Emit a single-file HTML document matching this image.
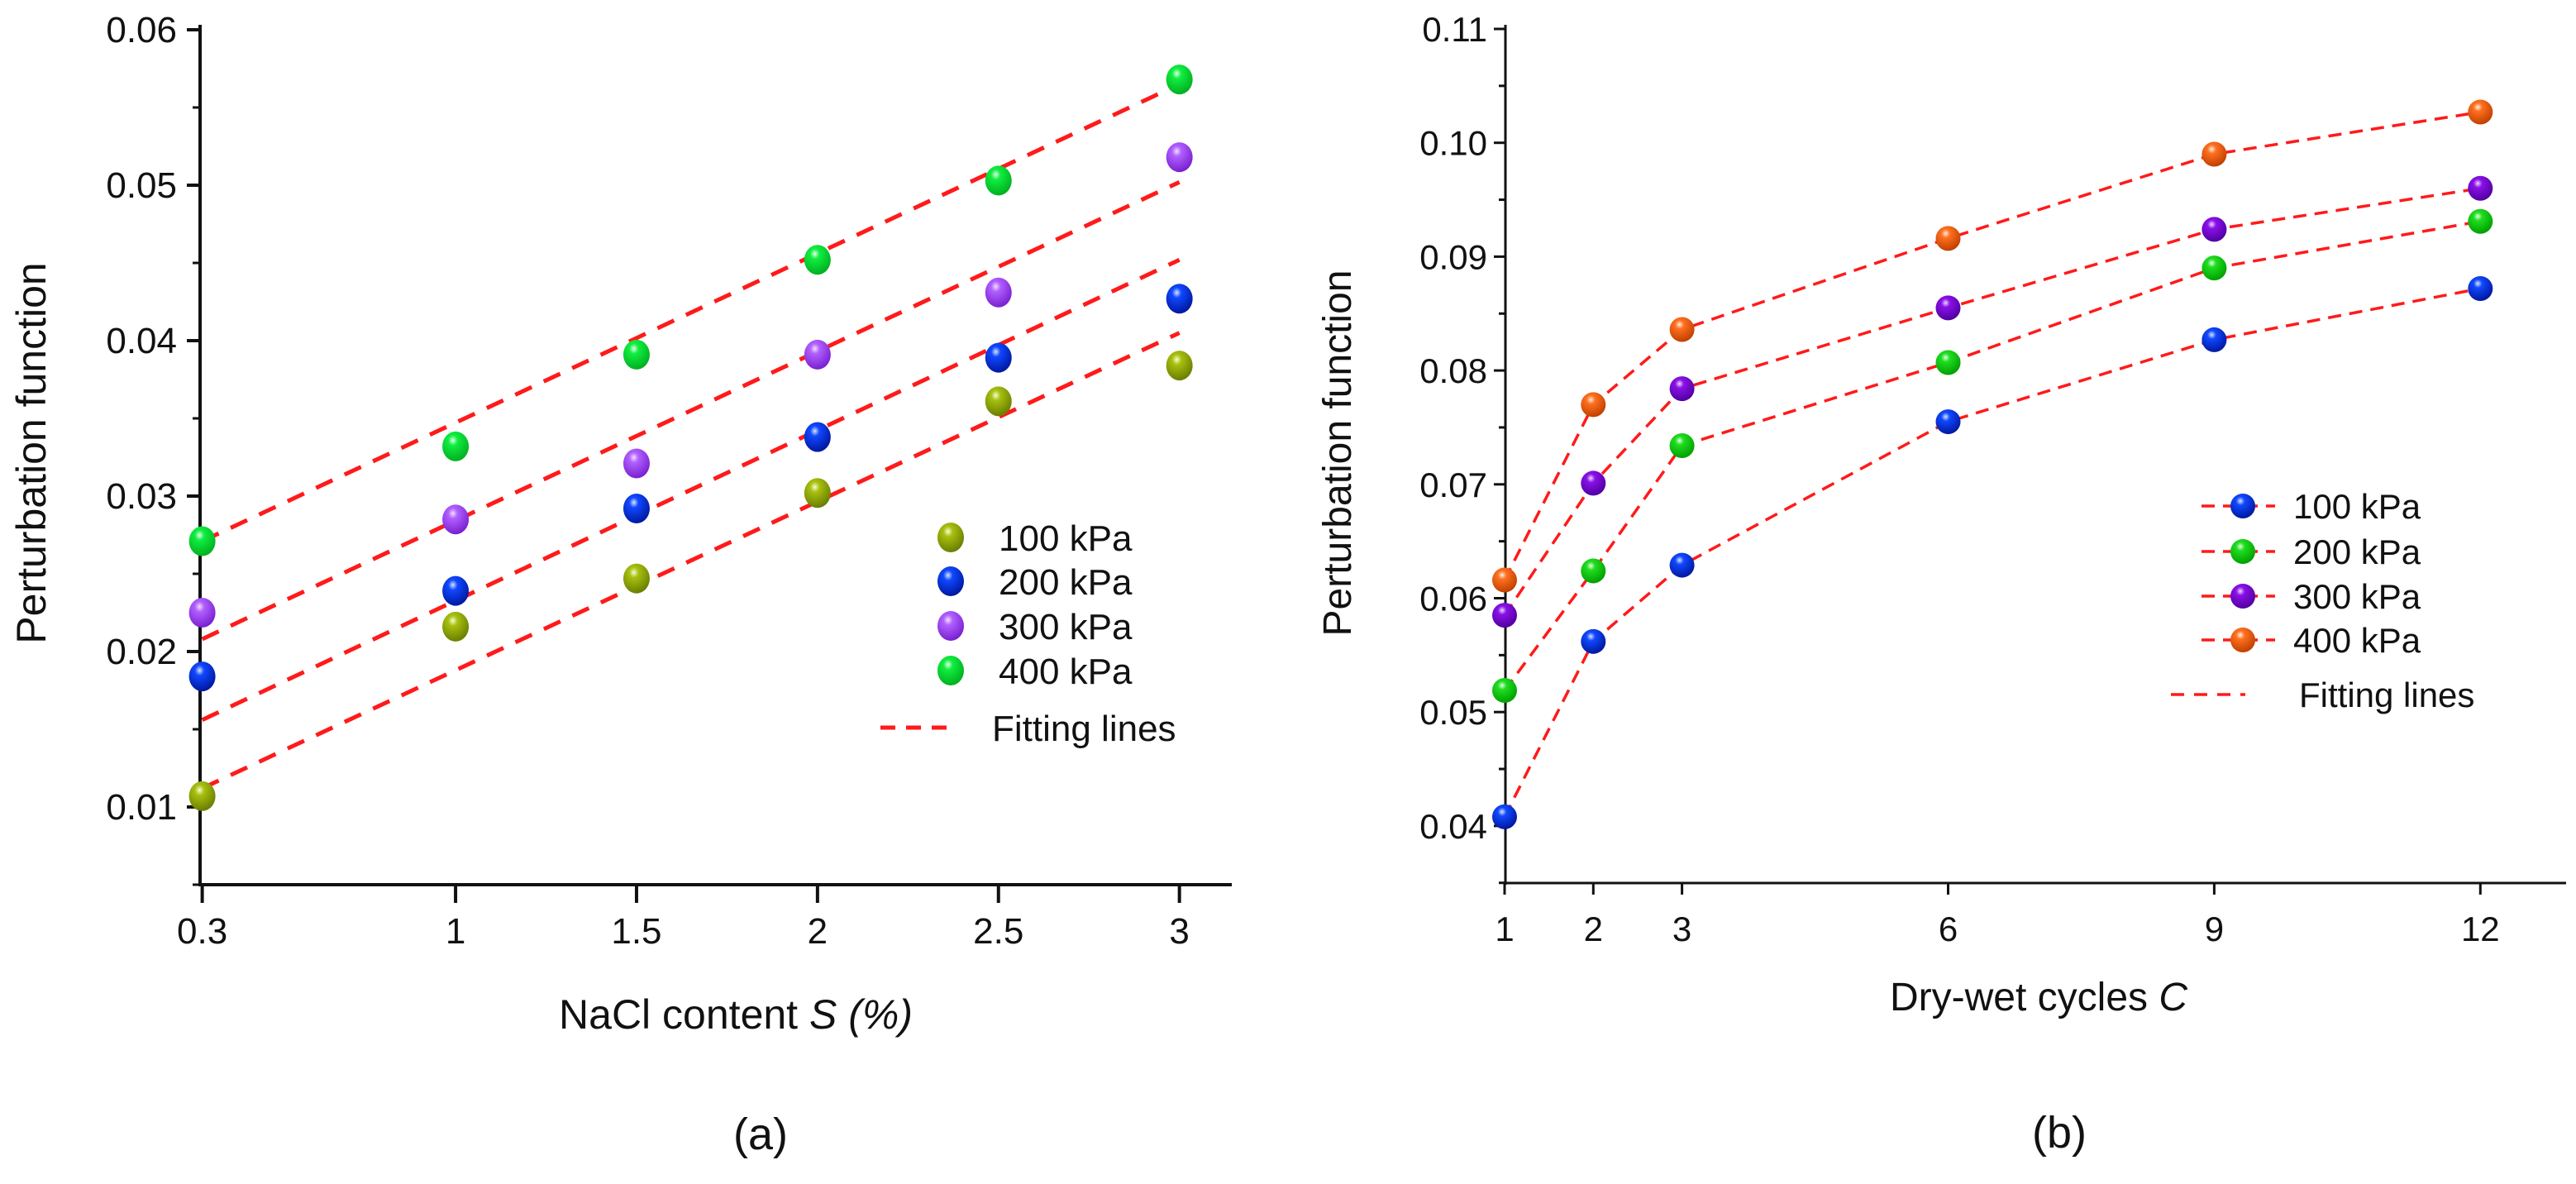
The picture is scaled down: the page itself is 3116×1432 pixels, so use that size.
<!DOCTYPE html>
<html><head><meta charset="utf-8"><style>
html,body{margin:0;padding:0;background:#fff;}
svg{display:block;}
text{font-family:"Liberation Sans",Arial,sans-serif;fill:#111;}
.na{font-family:"Liberation Sans Narrow","Liberation Sans",sans-serif;}
</style></head><body>
<svg id="fig" width="3116" height="1432" viewBox="0 0 3116 1432">
<defs>
<radialGradient id="g-olive" cx="0.4" cy="0.3" r="0.7"><stop offset="0" stop-color="#f4ffd0"/><stop offset="0.25" stop-color="#a8c010"/><stop offset="1" stop-color="#6a7e00"/></radialGradient>
<radialGradient id="g-blue" cx="0.4" cy="0.3" r="0.7"><stop offset="0" stop-color="#d8e4ff"/><stop offset="0.25" stop-color="#1048ff"/><stop offset="1" stop-color="#0018a0"/></radialGradient>
<radialGradient id="g-lilac" cx="0.4" cy="0.3" r="0.7"><stop offset="0" stop-color="#f4e0ff"/><stop offset="0.25" stop-color="#b060ff"/><stop offset="1" stop-color="#7a20d0"/></radialGradient>
<radialGradient id="g-green" cx="0.4" cy="0.3" r="0.7"><stop offset="0" stop-color="#e0ffe8"/><stop offset="0.25" stop-color="#10ee40"/><stop offset="1" stop-color="#00b020"/></radialGradient>
<radialGradient id="g-green2" cx="0.4" cy="0.3" r="0.7"><stop offset="0" stop-color="#e0ffe0"/><stop offset="0.25" stop-color="#20dd20"/><stop offset="1" stop-color="#00a000"/></radialGradient>
<radialGradient id="g-purple" cx="0.4" cy="0.3" r="0.7"><stop offset="0" stop-color="#ecd8ff"/><stop offset="0.25" stop-color="#8a10e8"/><stop offset="1" stop-color="#5000a0"/></radialGradient>
<radialGradient id="g-orange" cx="0.4" cy="0.3" r="0.7"><stop offset="0" stop-color="#fff0e0"/><stop offset="0.25" stop-color="#ff7020"/><stop offset="1" stop-color="#c04000"/></radialGradient>
</defs>
<g id="chartA"></g>
<g id="chartB"></g>
</svg>
<script>
// ---- Chart (a) data ----
const aCategories = [0.3, 1, 1.5, 2, 2.5, 3];
const aSeriesNames = ["100 kPa", "200 kPa", "300 kPa", "400 kPa"];
const a100 = [0.0107, 0.0216, 0.0247, 0.0302, 0.0361, 0.0384];
const a200 = [0.0184, 0.0239, 0.0292, 0.0338, 0.0389, 0.0427];
const a300 = [0.0225, 0.0285, 0.0321, 0.0391, 0.0431, 0.0518];
const a400 = [0.0271, 0.0332, 0.0391, 0.0452, 0.0503, 0.0568];
const aFitStart = [0.0112, 0.0156, 0.0208, 0.0271];
const aFitEnd = [0.0405, 0.0452, 0.0502, 0.0565];
const aXTicks = ["0.3", "1", "1.5", "2", "2.5", "3"];
const aYTicks = ["0.01", "0.02", "0.03", "0.04", "0.05", "0.06"];
// ---- Chart (b) data ----
const bCategories = [1, 2, 3, 6, 9, 12];
const bSeriesNames = ["100 kPa", "200 kPa", "300 kPa", "400 kPa"];
const b100 = [0.0408, 0.0562, 0.0629, 0.0755, 0.0827, 0.0872];
const b200 = [0.0519, 0.0624, 0.0734, 0.0807, 0.0890, 0.0931];
const b300 = [0.0585, 0.0701, 0.0784, 0.0855, 0.0924, 0.0960];
const b400 = [0.0616, 0.0770, 0.0836, 0.0916, 0.0990, 0.1027];
const bXTicks = ["1", "2", "3", "6", "9", "12"];
const bYTicks = ["0.04", "0.05", "0.06", "0.07", "0.08", "0.09", "0.10", "0.11"];

const NS = "http://www.w3.org/2000/svg";
function mk(parent, tag, attrs, txt){
  const e = document.createElementNS(NS, tag);
  for (const k in attrs) e.setAttribute(k, attrs[k]);
  if (txt !== undefined) e.textContent = txt;
  parent.appendChild(e);
  return e;
}

// ===== Chart A =====
(function(){
  const g = document.getElementById('chartA');
  const X0 = 242, XEND = 1490, YB = 1070;
  const xs = v => 244.6 + (v - 0.3) * 437.8;
  const ys = v => 36 + (0.06 - v) * 18800;
  const fitSeries = [0,1,2,3];
  fitSeries.forEach(i => {
    const l = mk(g, 'line', {x1: xs(aCategories[0]), y1: ys(aFitStart[i]), x2: xs(aCategories[aCategories.length-1]), y2: ys(aFitEnd[i]), stroke:'#ff1a1a', 'stroke-width':5, 'stroke-dasharray':'22 16'});
    
    
  });
  let e = mk(g, 'line', {x1:X0, y1:30, x2:X0, y2:YB+2, stroke:'#111','stroke-width':4});
   
  e = mk(g, 'line', {x1:X0-2, y1:YB, x2:XEND, y2:YB, stroke:'#111','stroke-width':4});
   
  aYTicks.forEach(t => {
    const y = ys(parseFloat(t));
    mk(g,'line',{x1:X0-16,y1:y,x2:X0,y2:y,stroke:'#111','stroke-width':4});
    const m = ys(parseFloat(t)-0.005);
    mk(g,'line',{x1:X0-9,y1:m,x2:X0,y2:m,stroke:'#111','stroke-width':3});
    const tx = mk(g,'text',{x:X0-28,y:y+15,'text-anchor':'end','font-size':44,class:'na'}, t);
     
  });
  aXTicks.forEach((t,i) => {
    const x = xs(aCategories[i]);
    mk(g,'line',{x1:x,y1:YB,x2:x,y2:YB+22,stroke:'#111','stroke-width':4});
    const tx = mk(g,'text',{x:x,y:1141,'text-anchor':'middle','font-size':44,class:'na'}, t);
     
  });
  const series = [a100, a200, a300, a400];
  const grads = ['g-olive','g-blue','g-lilac','g-green'];
  series.forEach((arr, si) => {
    arr.forEach((v, i) => {
      const c = mk(g,'ellipse',{cx:xs(aCategories[i]), cy:ys(v), rx:16, ry:18, fill:'url(#'+grads[si]+')'});
      
      
    });
  });
  const ly = [650, 703, 757, 811];
  aSeriesNames.forEach((n, i) => {
    const c = mk(g,'ellipse',{cx:1150, cy:ly[i], rx:16, ry:18, fill:'url(#'+grads[i]+')'});
     
    const t = mk(g,'text',{x:1208,y:ly[i]+16,'font-size':44,class:'na'}, n);
     
  });
  e = mk(g,'line',{x1:1065,y1:880,x2:1152,y2:880,stroke:'#ff1a1a','stroke-width':5,'stroke-dasharray':'18 13'});
   
  e = mk(g,'text',{x:1200,y:896,'font-size':44,class:'na'},'Fitting lines');
   
  e = mk(g,'text',{x:890,y:1244,'text-anchor':'middle','font-size':50,class:'na'});
  e.innerHTML = 'NaCl content <tspan font-style="italic">S (%)</tspan>';
   
  e = mk(g,'text',{x:0,y:0,'text-anchor':'middle','font-size':50,transform:'translate(55,548) rotate(-90)'},'Perturbation function');
   
  e = mk(g,'text',{x:920,y:1390,'text-anchor':'middle','font-size':54},'(a)');
   
})();

// ===== Chart B =====
(function(){
  const g = document.getElementById('chartB');
  const X0 = 1821, XEND = 3104, YB = 1068;
  const xs = v => 1820 + (v - 1) * 107.3;
  const ys = v => 35 + (0.11 - v) * 13770;
  const series = [b100, b200, b300, b400];
  const grads = ['g-blue','g-green2','g-purple','g-orange'];
  series.forEach((arr, si) => {
    let d = '';
    arr.forEach((v,i) => { d += (i?'L':'M') + xs(bCategories[i]) + ' ' + ys(v) + ' '; });
    const p = mk(g,'path',{d:d, fill:'none', stroke:'#ff1a1a','stroke-width':3.5,'stroke-dasharray':'16 10'});
    
    
  });
  let e = mk(g,'line',{x1:X0,y1:30,x2:X0,y2:YB+2,stroke:'#111','stroke-width':3});
   
  e = mk(g,'line',{x1:X0-2,y1:YB,x2:XEND,y2:YB,stroke:'#111','stroke-width':3});
   
  bYTicks.forEach(t => {
    const y = ys(parseFloat(t));
    mk(g,'line',{x1:X0-14,y1:y,x2:X0,y2:y,stroke:'#111','stroke-width':3});
    const m = ys(parseFloat(t)-0.005);
    mk(g,'line',{x1:X0-8,y1:m,x2:X0,y2:m,stroke:'#111','stroke-width':3});
    const tx = mk(g,'text',{x:X0-22,y:y+15,'text-anchor':'end','font-size':42}, t);
     
  });
  bXTicks.forEach((t,i) => {
    const x = xs(bCategories[i]);
    mk(g,'line',{x1:x,y1:YB,x2:x,y2:YB+14,stroke:'#111','stroke-width':3});
    const tx = mk(g,'text',{x:x,y:1138,'text-anchor':'middle','font-size':42}, t);
     
  });
  series.forEach((arr, si) => {
    arr.forEach((v,i) => {
      const c = mk(g,'circle',{cx:xs(bCategories[i]), cy:ys(v), r:15, fill:'url(#'+grads[si]+')'});
      
      
    });
  });
  const ly = [612, 667, 721, 774];
  bSeriesNames.forEach((n,i) => {
    mk(g,'line',{x1:2663,y1:ly[i],x2:2752,y2:ly[i],stroke:'#ff1a1a','stroke-width':3.5,'stroke-dasharray':'16 10'});
    const c = mk(g,'circle',{cx:2713, cy:ly[i], r:15, fill:'url(#'+grads[i]+')'});
     
    const t = mk(g,'text',{x:2774,y:ly[i]+15,'font-size':42}, n);
     
  });
  e = mk(g,'line',{x1:2626,y1:840,x2:2716,y2:840,stroke:'#ff1a1a','stroke-width':3.5,'stroke-dasharray':'16 12'});
   
  e = mk(g,'text',{x:2781,y:855,'font-size':42},'Fitting lines');
   
  e = mk(g,'text',{x:2466,y:1222,'text-anchor':'middle','font-size':48});
  e.innerHTML = 'Dry-wet cycles <tspan font-style="italic">C</tspan>';
   
  e = mk(g,'text',{x:0,y:0,'text-anchor':'middle','font-size':48,transform:'translate(1634,548) rotate(-90)'},'Perturbation function');
   
  e = mk(g,'text',{x:2491,y:1388,'text-anchor':'middle','font-size':54},'(b)');
   
})();
</script>
</body></html>
